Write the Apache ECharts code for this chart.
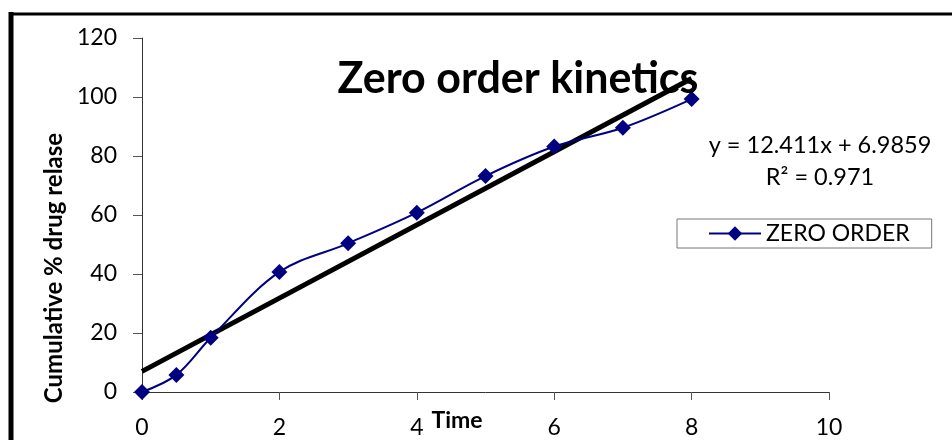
<!DOCTYPE html>
<html>
<head>
<meta charset="utf-8">
<script src="https://cdn.jsdelivr.net/npm/echarts@6/dist/echarts.min.js"></script>
<style>
  html, body { margin: 0; padding: 0; background: #fff; }
  #chart { width: 952px; height: 440px; }
</style>
</head>
<body>
<div id="chart"></div>
<script>
  // data
  var timeValues = [0, 0.5, 1, 2, 3, 4, 5, 6, 7, 8];
  var releaseValues = [0, 5.8, 18.4, 40.7, 50.4, 60.8, 73.2, 83.2, 89.6, 99.3];
  // trendline ends (y = 12.411x + 6.9859)
  var trendX = [0, 8];
  var trendY = [6.99, 106.27];
  var equationText = 'y = 12.411x + 6.9859';
  var r2Text = 'R² = 0.971';

  var font = 'Lato, "Open Sans", sans-serif';

  var chart = echarts.init(document.getElementById('chart'));
  chart.setOption({
    animation: false,
    backgroundColor: '#fff',
    textStyle: { fontFamily: font },
    grid: { left: 142, right: 123, top: 38, bottom: 48, outerBoundsMode: 'none' },
    xAxis: {
      type: 'value', min: 0, max: 10, interval: 2,
      axisLine: { show: true, lineStyle: { color: '#333', width: 1 } },
      axisTick: { show: true, length: 8, lineStyle: { color: '#555' } },
      axisLabel: { color: '#000', fontSize: 23, margin: 24, fontFamily: font },
      splitLine: { show: false }
    },
    yAxis: {
      type: 'value', min: 0, max: 120, interval: 20,
      axisLine: { show: true, lineStyle: { color: '#333', width: 1 } },
      axisTick: { show: true, length: 9, lineStyle: { color: '#555' } },
      axisLabel: { color: '#000', fontSize: 23, margin: 25, fontFamily: font },
      splitLine: { show: false }
    },
    legend: {
      data: ['ZERO ORDER'],
      left: 677, top: 219,
      orient: 'vertical',
      itemWidth: 52, itemHeight: 18, itemGap: 6,
      padding: [3, 22, 3, 31],
      borderColor: '#777', borderWidth: 1,
      textStyle: { color: '#000', fontSize: 23, fontFamily: font }
    },
    series: [
      {
        name: 'ZERO ORDER',
        type: 'line',
        smooth: 0.35,
        data: timeValues.map(function (t, i) { return [t, releaseValues[i]]; }),
        symbol: 'diamond',
        symbolSize: 16,
        lineStyle: { color: '#000080', width: 2 },
        itemStyle: { color: '#000080' },
        z: 3
      },
      {
        name: 'trend',
        type: 'line',
        data: trendX.map(function (t, i) { return [t, trendY[i]]; }),
        symbol: 'none',
        lineStyle: { color: '#000', width: 5 },
        z: 2
      }
    ],
    graphic: [
      { type: 'line', shape: { x1: 11, y1: 12, x2: 11, y2: 440 }, style: { stroke: '#000', lineWidth: 5 } },
      { type: 'line', shape: { x1: 9, y1: 14, x2: 952, y2: 14 }, style: { stroke: '#000', lineWidth: 3 } },
      {
        type: 'text', x: 518, y: 79, z: 10,
        style: { text: 'Zero order kinetics', font: 'bold 43px ' + font, fill: '#000', align: 'center', verticalAlign: 'middle' }
      },
      {
        type: 'text', x: 54, y: 268, rotation: Math.PI / 2,
        style: { text: 'Cumulative % drug relase', font: 'bold 24px ' + font, fill: '#000', align: 'center', verticalAlign: 'middle' }
      },
      {
        type: 'text', x: 457, y: 421,
        style: { text: 'Time', font: 'bold 23px ' + font, fill: '#000', align: 'center', verticalAlign: 'middle' }
      },
      {
        type: 'text', x: 820, y: 145,
        style: { text: equationText, font: '23.5px ' + font, fill: '#000', align: 'center', verticalAlign: 'middle' }
      },
      {
        type: 'text', x: 820, y: 177,
        style: { text: r2Text, font: '23.5px ' + font, fill: '#000', align: 'center', verticalAlign: 'middle' }
      }
    ]
  });
</script>
</body>
</html>
